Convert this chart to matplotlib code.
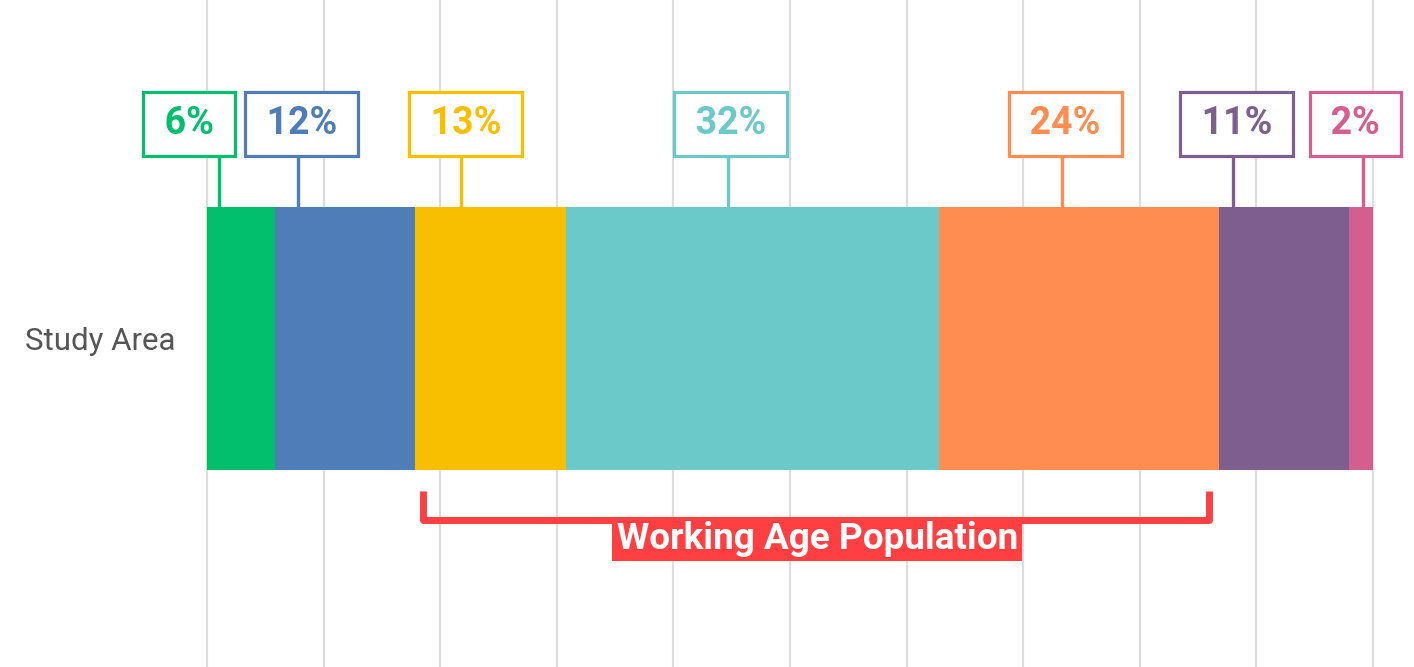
import matplotlib

matplotlib.use("Agg")
import matplotlib.pyplot as plt
import matplotlib.transforms as mtransforms
import numpy as np

# share of population by age group (percent), left to right
CATEGORY = "Study Area"
SHARES = [5.8, 12.0, 13.0, 32.0, 24.0, 11.1, 2.1]
COLORS = ["#02BF6D", "#4F7DB8", "#F8BE00", "#6CC9CA", "#FF8C50", "#7D5E8F", "#D45E8D"]
WORKING_AGE = (2, 4)  # first and last segment under the bracket
BRACKET_TEXT = "Working Age Population"

# where the callout lines hit the bar and where the boxes sit (percent axis)
LINE_X = [1.0, 7.8, 21.8, 44.7, 73.3, 88.0, 99.1]
BOX_X = [-1.55, 8.1, 22.2, 44.9, 73.6, 88.3, 98.5]

RED = "#FF3F42"
GRID = "#DDDDDD"
FONT = "Roboto"

W_PX, H_PX = 1414, 667
BAR_TOP_PX, BAR_BOT_PX = 207, 470.5
AX_LEFT_PX, AX_RIGHT_PX = 207, 1373


def px_to_y(py):
    # bar is centred on y=0 with height 1
    unit = BAR_BOT_PX - BAR_TOP_PX
    return 0.5 + (BAR_TOP_PX - py) / unit


def main():
    fig = plt.figure(figsize=(W_PX / 100, H_PX / 100), dpi=100)
    ax = fig.add_axes([AX_LEFT_PX / W_PX, 0, (AX_RIGHT_PX - AX_LEFT_PX) / W_PX, 1])

    shares = np.array(SHARES)
    starts = np.concatenate([[0.0], np.cumsum(shares)[:-1]])
    ax.barh([0] * len(shares), shares, left=starts, height=1.0, color=COLORS,
            linewidth=0, zorder=2)

    # callout boxes
    box_y = px_to_y(123.5)
    for v, c, lx, bx in zip(SHARES, COLORS, LINE_X, BOX_X):
        ax.plot([lx, lx], [0.5, box_y], color=c, lw=2.4, zorder=3,
                solid_capstyle="butt")
        ax.text(bx, box_y, f"\u2009{round(v)}%\u2009", color=c, fontsize=27,
                fontweight="bold", family=FONT, ha="center", va="center",
                zorder=4, clip_on=False,
                bbox=dict(boxstyle="square,pad=0.36", fc="white", ec=c, lw=2.3))

    # working age bracket
    x0 = starts[WORKING_AGE[0]] + 0.7
    x1 = starts[WORKING_AGE[1]] + shares[WORKING_AGE[1]] - 0.9
    y_top, y_bot = px_to_y(491), px_to_y(520)
    ax.plot([x0, x0, x1, x1], [y_top, y_bot, y_bot, y_top], color=RED, lw=5,
            solid_joinstyle="round", solid_capstyle="butt", zorder=3)
    ax.text((x0 + x1) / 2 + 0.15, px_to_y(539), BRACKET_TEXT, color="white",
            fontsize=26.6, fontweight="bold", family=FONT, ha="center",
            va="center", zorder=4,
            bbox=dict(boxstyle="square,pad=0.12", fc=RED, ec="none"))

    ax.set_xlim(0, 100)
    ax.set_ylim(px_to_y(H_PX), px_to_y(0))
    ax.set_xticks(np.arange(0, 101, 10))
    ax.set_xticklabels([])
    ax.set_yticks([0])
    ax.set_yticklabels([CATEGORY], fontsize=22.5, family=FONT, color="#555555")
    shift = mtransforms.ScaledTranslation(-2 / 100, 3 / 100, fig.dpi_scale_trans)
    for lbl in ax.get_yticklabels():
        lbl.set_transform(lbl.get_transform() + shift)
    ax.tick_params(length=0, axis="both")
    ax.tick_params(axis="y", pad=23)
    ax.grid(True, axis="x", color=GRID, lw=1.6)
    for gl in ax.get_xgridlines():
        gl.set_clip_on(False)
    ax.set_axisbelow(True)
    for s in ax.spines.values():
        s.set_visible(False)

    fig.savefig("out.png", dpi=100)
    plt.close(fig)


if __name__ == "__main__":
    main()
